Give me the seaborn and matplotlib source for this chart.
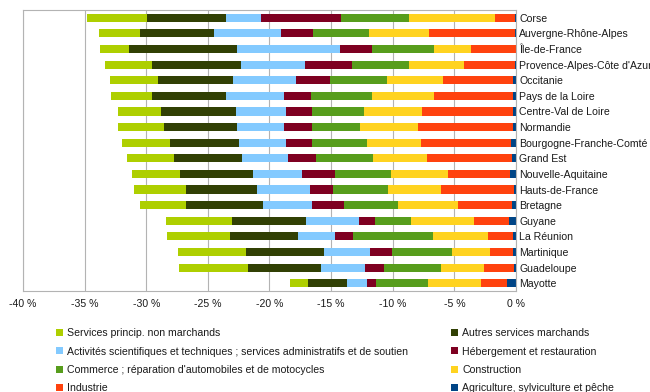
import numpy as np
import pandas as pd
import matplotlib
matplotlib.use("Agg")
import matplotlib.pyplot as plt
from matplotlib.patches import Patch
from matplotlib.ticker import FuncFormatter
import seaborn as sns

# Regions, top to bottom
regions = [
    "Corse", "Auvergne-Rhône-Alpes", "Île-de-France", "Provence-Alpes-Côte d'Azur",
    "Occitanie", "Pays de la Loire", "Centre-Val de Loire", "Normandie",
    "Bourgogne-Franche-Comté", "Grand Est", "Nouvelle-Aquitaine", "Hauts-de-France",
    "Bretagne", "Guyane", "La Réunion", "Martinique", "Guadeloupe", "Mayotte",
]

# Contribution of each sector (in %), one value per region
agriculture = [0.10, 0.05, 0.02, 0.10, 0.22, 0.27, 0.27, 0.24, 0.43, 0.32, 0.49, 0.19, 0.35, 0.54, 0.24, 0.24, 0.19, 0.73]
industrie = [1.63, 7.00, 3.65, 4.14, 5.73, 6.38, 7.35, 7.71, 7.30, 6.92, 5.03, 5.92, 4.35, 2.84, 2.06, 1.89, 2.41, 2.08]
construction = [6.95, 4.84, 2.98, 4.44, 4.54, 5.03, 4.71, 4.70, 4.38, 4.36, 4.59, 4.25, 4.87, 5.11, 4.46, 3.04, 3.48, 4.30]
commerce = [5.49, 4.59, 5.05, 4.62, 4.62, 4.95, 4.24, 3.89, 4.43, 4.64, 4.57, 4.46, 4.36, 2.92, 6.44, 4.89, 4.65, 4.24]
hebergement = [6.48, 2.57, 2.54, 3.84, 2.71, 2.21, 2.06, 2.30, 2.09, 2.25, 2.68, 1.89, 2.64, 1.30, 1.48, 1.76, 1.54, 0.73]
activites = [2.90, 5.43, 8.43, 5.14, 5.18, 4.66, 4.05, 3.79, 3.81, 3.73, 3.98, 4.29, 3.99, 4.29, 3.00, 3.75, 3.52, 1.65]
autres_services = [6.40, 6.06, 8.71, 7.24, 6.03, 6.05, 6.09, 5.89, 5.62, 5.54, 5.95, 5.76, 6.21, 6.06, 5.52, 6.35, 5.95, 3.14]
non_marchands = [4.82, 3.27, 2.35, 3.84, 3.92, 3.27, 3.56, 3.81, 3.89, 3.79, 3.89, 4.20, 3.73, 5.30, 5.10, 5.52, 5.59, 1.46]

# Stacking order, from 0 outwards
sectors = [
    ("Agriculture, sylviculture et pêche", agriculture, "#004586"),
    ("Industrie", industrie, "#ff420e"),
    ("Construction", construction, "#ffd320"),
    ("Commerce ; réparation d'automobiles et de motocycles", commerce, "#579d1c"),
    ("Hébergement et restauration", hebergement, "#7e0021"),
    ("Activités scientifiques et techniques ; services administratifs et de soutien", activites, "#83caff"),
    ("Autres services marchands", autres_services, "#314004"),
    ("Services princip. non marchands", non_marchands, "#aecf00"),
]

sns.set_style("white")
plt.rcParams["font.family"] = ["Liberation Sans", "DejaVu Sans"]
plt.rcParams["font.size"] = 7.6
text_color = "#1a1a1a"
grid_color = "#b3b3b3"

fig = plt.figure(figsize=(6.5, 3.92), dpi=100)
ax = fig.add_axes([23 / 650, 1 - 291 / 392, (516 - 23) / 650, (291 - 10) / 392])

# Cumulative totals; longest stacks are drawn first and covered by shorter ones
cumulative = []
running = np.zeros(len(regions))
for _, vals, _ in sectors:
    running = running + np.asarray(vals)
    cumulative.append(running.copy())

for (name, _, color), cum in reversed(list(zip(sectors, cumulative))):
    df = pd.DataFrame({"region": regions, "value": -cum})
    sns.barplot(data=df, x="value", y="region", orient="h", color=color,
                saturation=1, width=0.52, linewidth=0, errorbar=None, ax=ax)

ax.set_xlim(-40, 0)
ax.set_xticks(np.arange(-40, 1, 5))
ax.xaxis.set_major_formatter(FuncFormatter(lambda v, _: f"{int(round(v))} %"))
ax.set_xlabel("")
ax.set_ylabel("")
ax.set_axisbelow(True)
ax.grid(axis="x", color=grid_color, linewidth=0.8)
for spine in ax.spines.values():
    spine.set_color(grid_color)
    spine.set_linewidth(0.8)

ax.yaxis.tick_right()
ax.tick_params(axis="y", length=0, pad=2.3, labelcolor=text_color, labelsize=7.6)
ax.tick_params(axis="x", direction="out", length=3, width=0.8, color=grid_color,
               pad=3, labelcolor=text_color, labelsize=7.6)

# Legend in two columns below the chart
handles = {name: Patch(facecolor=color, edgecolor="none") for name, _, color in sectors}
left_names = [sectors[7][0], sectors[5][0], sectors[3][0], sectors[1][0]]
right_names = [sectors[6][0], sectors[4][0], sectors[2][0], sectors[0][0]]
common = dict(frameon=False, loc="upper left", borderpad=0, borderaxespad=0,
              handlelength=0.65, handleheight=0.65, handletextpad=0.4,
              labelspacing=0.78, fontsize=7.55, labelcolor=text_color)
leg1 = fig.legend([handles[n] for n in left_names], left_names,
                  bbox_to_anchor=(56 / 650, 1 - 328.5 / 392), **common)
leg2 = fig.legend([handles[n] for n in right_names], right_names,
                  bbox_to_anchor=(451 / 650, 1 - 328.5 / 392), **common)

fig.savefig("out.png", dpi=100)
